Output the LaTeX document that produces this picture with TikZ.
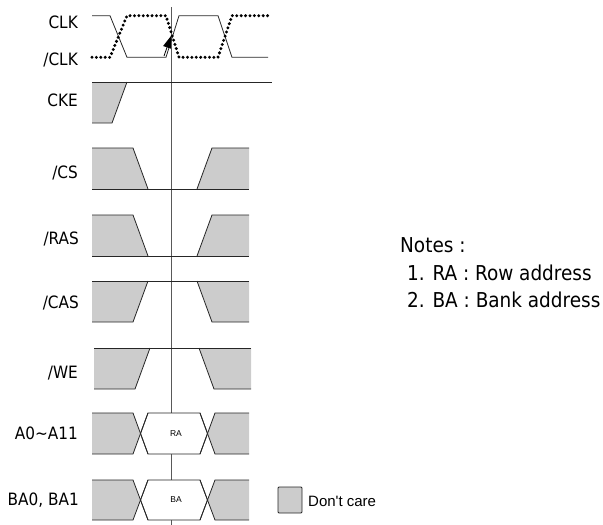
\documentclass[tikz,border=0pt]{standalone}
\usepackage{fontspec}
\setmainfont{DejaVu Sans Condensed}
\newfontfamily\arialf{Liberation Sans}
\usetikzlibrary{arrows.meta}
\newcommand\wCS[2]{% top, bottom : high-low-high with don't care
  \fill[dc] (92,#1)--(133,#1)--(148,#2)--(92,#2)--cycle;
  \fill[dc] (197,#2)--(212,#1)--(249,#1)--(249,#2)--cycle;
  \draw[wave] (92,#1)--(133,#1)--(148,#2);
  \draw[wave] (92,#2)--(249,#2);
  \draw[wave] (197,#2)--(212,#1)--(249,#1);}
\newcommand\wCAS[2]{% top, bottom : stays high
  \fill[dc] (92,#1)--(148,#1)--(133,#2)--(92,#2)--cycle;
  \fill[dc] (197,#1)--(249,#1)--(249,#2)--(212,#2)--cycle;
  \draw[wave] (92,#1)--(249,#1);
  \draw[wave] (92,#2)--(133,#2)--(148,#1);
  \draw[wave] (197,#1)--(212,#2)--(249,#2);}
\newcommand\wBus[3]{% top, bottom, text
  \fill[dc] (92,#1)--(133,#1)--(140.5,{(#1+#2)/2})--(133,#2)--(92,#2)--cycle;
  \fill[dc] (207.5,{(#1+#2)/2})--(215,#1)--(249,#1)--(249,#2)--(215,#2)--cycle;
  \filldraw[wave,fill=white] (140.5,{(#1+#2)/2})--(148,#1)--(200,#1)--(207.5,{(#1+#2)/2})--(200,#2)--(148,#2)--cycle;
  \draw[wave] (92,#1)--(133,#1)--(148,#2);
  \draw[wave] (92,#2)--(133,#2)--(148,#1);
  \draw[wave] (200,#1)--(215,#2)--(249,#2);
  \draw[wave] (200,#2)--(215,#1)--(249,#1);
  \node[hex] at (176,{(#1+#2)/2}) {#3};}
\begin{document}
\begin{tikzpicture}[x=1pt,y=-1pt,
  wave/.style={line width=0.8pt,draw=black!85},
  dc/.style={fill=black!20},
  lbl/.style={anchor=east,inner sep=0pt,font=\fontsize{17}{20}\selectfont},
  note/.style={anchor=west,inner sep=0pt,font=\fontsize{20.5}{24}\selectfont},
  hex/.style={inner sep=0pt,font=\arialf\fontsize{8.5}{10}\selectfont},
  dotw/.style={line width=3.3pt,dash pattern=on 0pt off 4.4pt,line cap=round,black}]
\useasboundingbox (0,0) rectangle (603,525);
% reference vertical line
\coordinate (vt) at (171.7,7);
\coordinate (vb) at (171.7,525);
\draw[line width=0.9pt,black!65] (vt) -- (vb);
% CLK solid
\draw[wave] (92,15.7)--(110,15.7)--(127,57.3)--(166,57.3)--(179,15.7)--(218,15.7)--(232,57.3)--(268,57.3);
% /CLK dotted
\draw[dotw] (92,57.3)--(110,57.3)--(127,15.7)--(166,15.7)--(179,57.3)--(218,57.3)--(232,15.7)--(268,15.7);
\coordinate (ae) at (164,56);
\coordinate (at) at (171,36);
\draw[line width=0.8pt,-{Triangle[length=12pt,width=8pt]}] (ae) -- (at);
% CKE
\fill[dc] (92,82)--(127,82)--(112,123)--(92,123)--cycle;
\draw[wave] (92,123)--(112,123)--(127,82);
\draw[wave] (92,82)--(272,82);
% control signals
\wCS{148}{189}
\wCS{215}{256}
\wCAS{281}{322}
\begin{scope}[xshift=2pt]
\wCAS{348}{389}
\end{scope}
\wBus{413}{454}{RA}
\wBus{480}{520}{BA}
% labels
\node[lbl] (lclk) at (78,22) {CLK};
\node[lbl] (lnclk) at (78,60) {/CLK};
\node[lbl] (lcke) at (78,100) {CKE};
\node[lbl] (lcs) at (78,173) {/CS};
\node[lbl] (lras) at (79,239) {/RAS};
\node[lbl] (lcas) at (79,303) {/CAS};
\node[lbl] (lwe) at (78,373) {/WE};
\node[lbl] (la) at (78,433) {A0\char"7E A11};
\node[lbl] (lba) at (79,500) {BA0, BA1};
% notes
\node[note] (n0) at (400,245.5) {Notes :};
\node[note] (n1) at (407,273) {1. RA : Row address};
\node[note] (n2) at (407,300) {2. BA : Bank address};
% legend
\filldraw[line width=0.8pt,draw=black!85,fill=black!20,rounded corners=1pt] (278,487) rectangle (302,513);
\node[anchor=west,inner sep=0pt,font=\arialf\fontsize{15}{18}\selectfont] (ldc) at (308,501) {Don't care};
\end{tikzpicture}
\end{document}
